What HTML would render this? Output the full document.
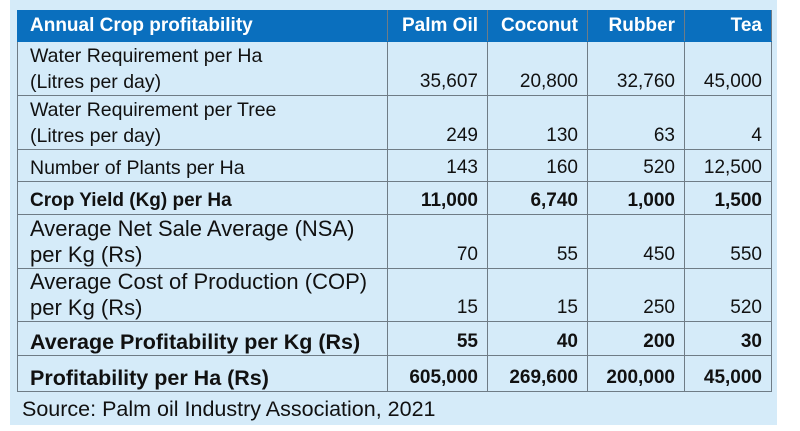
<!DOCTYPE html>
<html><head><style>
body{margin:0;width:800px;height:431px;background:#fff;overflow:hidden;font-family:"Liberation Sans",sans-serif;}
#bg{position:absolute;left:10px;top:0;width:767px;height:425px;background:#d5ebf9;}
table{position:absolute;left:17px;top:10px;border-collapse:collapse;table-layout:fixed;color:#111;}
td{border:1.5px solid #6f7c86;padding:0 0 0 12px;font-size:19.5px;line-height:26px;vertical-align:bottom;white-space:nowrap;overflow:hidden;}
td.n{text-align:right;padding:0 9px 0 0;font-size:19px;}
tr.h td{background:#0a6fbe;color:#fff;font-weight:bold;vertical-align:middle;border-color:#0a6fbe;border-right-color:#6f7c86;font-size:19px;}
.b td{font-weight:bold;}
.b td.c{font-size:19px;}
td.a{font-size:22px;}
.b td.a{font-size:21.5px;}
#src{position:absolute;left:22px;top:397px;font-size:21.5px;color:#111;}
</style></head><body>
<div id="bg"></div>
<table>
<colgroup><col style="width:370px"><col style="width:100px"><col style="width:100px"><col style="width:97px"><col style="width:87px"></colgroup>
<tr class="h" style="height:31px"><td>Annual Crop profitability</td><td class="n">Palm Oil</td><td class="n">Coconut</td><td class="n">Rubber</td><td class="n">Tea</td></tr>
<tr style="height:54px"><td>Water Requirement per Ha<br>(Litres per day)</td><td class="n">35,607</td><td class="n">20,800</td><td class="n">32,760</td><td class="n">45,000</td></tr>
<tr style="height:54px"><td>Water Requirement per Tree<br>(Litres per day)</td><td class="n">249</td><td class="n">130</td><td class="n">63</td><td class="n">4</td></tr>
<tr style="height:32px"><td>Number of Plants per Ha</td><td class="n">143</td><td class="n">160</td><td class="n">520</td><td class="n">12,500</td></tr>
<tr class="b" style="height:33px"><td class="c">Crop Yield (Kg) per Ha</td><td class="n">11,000</td><td class="n">6,740</td><td class="n">1,000</td><td class="n">1,500</td></tr>
<tr style="height:54px"><td class="a">Average Net Sale Average (NSA)<br>per Kg (Rs)</td><td class="n">70</td><td class="n">55</td><td class="n">450</td><td class="n">550</td></tr>
<tr style="height:53px"><td class="a">Average Cost of Production (COP)<br>per Kg (Rs)</td><td class="n">15</td><td class="n">15</td><td class="n">250</td><td class="n">520</td></tr>
<tr class="b" style="height:34px"><td class="a">Average Profitability per Kg (Rs)</td><td class="n">55</td><td class="n">40</td><td class="n">200</td><td class="n">30</td></tr>
<tr class="b" style="height:36px"><td class="a">Profitability per Ha (Rs)</td><td class="n">605,000</td><td class="n">269,600</td><td class="n">200,000</td><td class="n">45,000</td></tr>
</table>
<div id="src">Source: Palm oil Industry Association, 2021</div>
</body></html>
